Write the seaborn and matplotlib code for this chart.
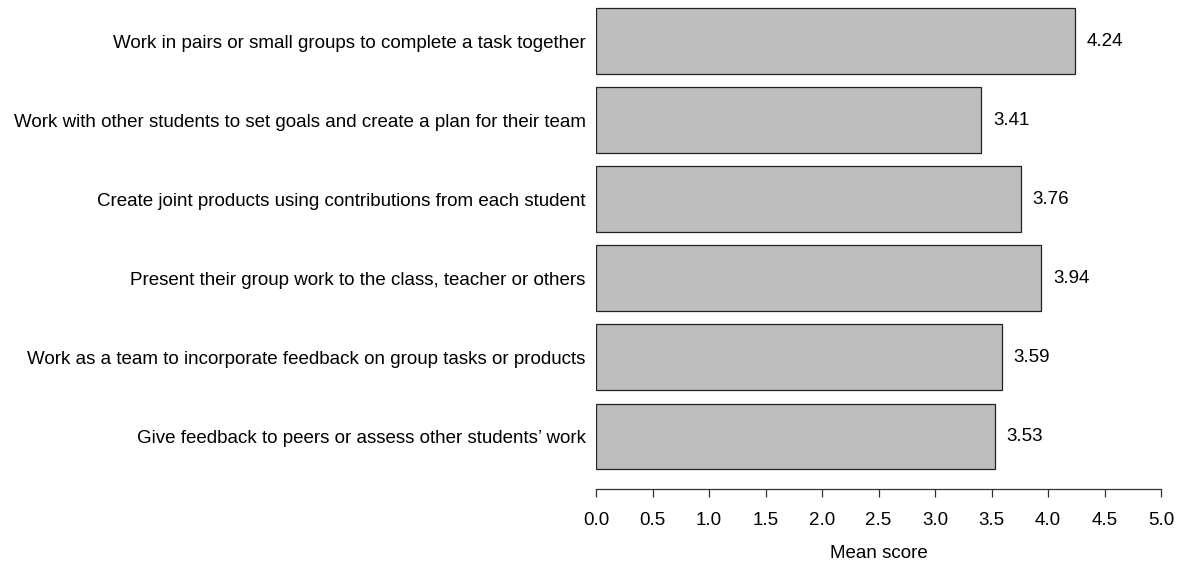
import matplotlib
matplotlib.use("Agg")
import matplotlib.pyplot as plt
import seaborn as sns
import pandas as pd

categories = [
    "Work in pairs or small groups to complete a task together",
    "Work with other students to set goals and create a plan for their team",
    "Create joint products using contributions from each student",
    "Present their group work to the class, teacher or others",
    "Work as a team to incorporate feedback on group tasks or products",
    "Give feedback to peers or assess other students\u2019 work",
]
values = [4.24, 3.41, 3.76, 3.94, 3.59, 3.53]
value_labels = ["4.24", "3.41", "3.76", "3.94", "3.59", "3.53"]
xticks = [0.0, 0.5, 1.0, 1.5, 2.0, 2.5, 3.0, 3.5, 4.0, 4.5, 5.0]

sns.set_style("white")
plt.rcParams["font.family"] = ["Liberation Sans", "DejaVu Sans"]
plt.rcParams["text.color"] = "black"
plt.rcParams["xtick.color"] = "black"
plt.rcParams["ytick.color"] = "black"
plt.rcParams["axes.labelcolor"] = "black"

FS = 13.5
W, H = 1184, 562
fig = plt.figure(figsize=(W / 100, H / 100), dpi=100)
left_px, right_px, top_px, bottom_px = 596, 1161, 0, 489
ax = fig.add_axes([left_px / W, 1 - bottom_px / H, (right_px - left_px) / W, (bottom_px - top_px) / H])

df = pd.DataFrame({"cat": categories, "val": values})
sns.barplot(data=df, x="val", y="cat", orient="h", color="#BEBEBE", saturation=1,
            width=0.833, edgecolor="#222222", linewidth=0.9, ax=ax)

spacing = 79.1
first_center = 41
ax.set_ylim((bottom_px - first_center) / spacing, (top_px - first_center) / spacing)
ax.set_xlim(0, 5)

for i, (v, lab) in enumerate(zip(values, value_labels)):
    ax.annotate(lab, xy=(v, i), xytext=(8.4, 0), textcoords="offset points",
                va="center", ha="left", fontsize=FS, color="black")

for s in ["left", "right", "top"]:
    ax.spines[s].set_visible(False)
ax.spines["bottom"].set_bounds(0, 5)
ax.spines["bottom"].set_color("#333333")
ax.spines["bottom"].set_linewidth(0.9)

ax.set_xticks(xticks)
ax.set_xticklabels([f"{t:.1f}" for t in xticks], fontsize=FS)
ax.tick_params(axis="x", direction="out", length=5.8, width=0.9, color="#333333", pad=11, bottom=True)
ax.tick_params(axis="y", length=0, pad=7.5, labelsize=FS)
ax.set_ylabel("")
ax.set_xlabel("Mean score", fontsize=FS, labelpad=11)

fig.savefig("out.png", dpi=100)
